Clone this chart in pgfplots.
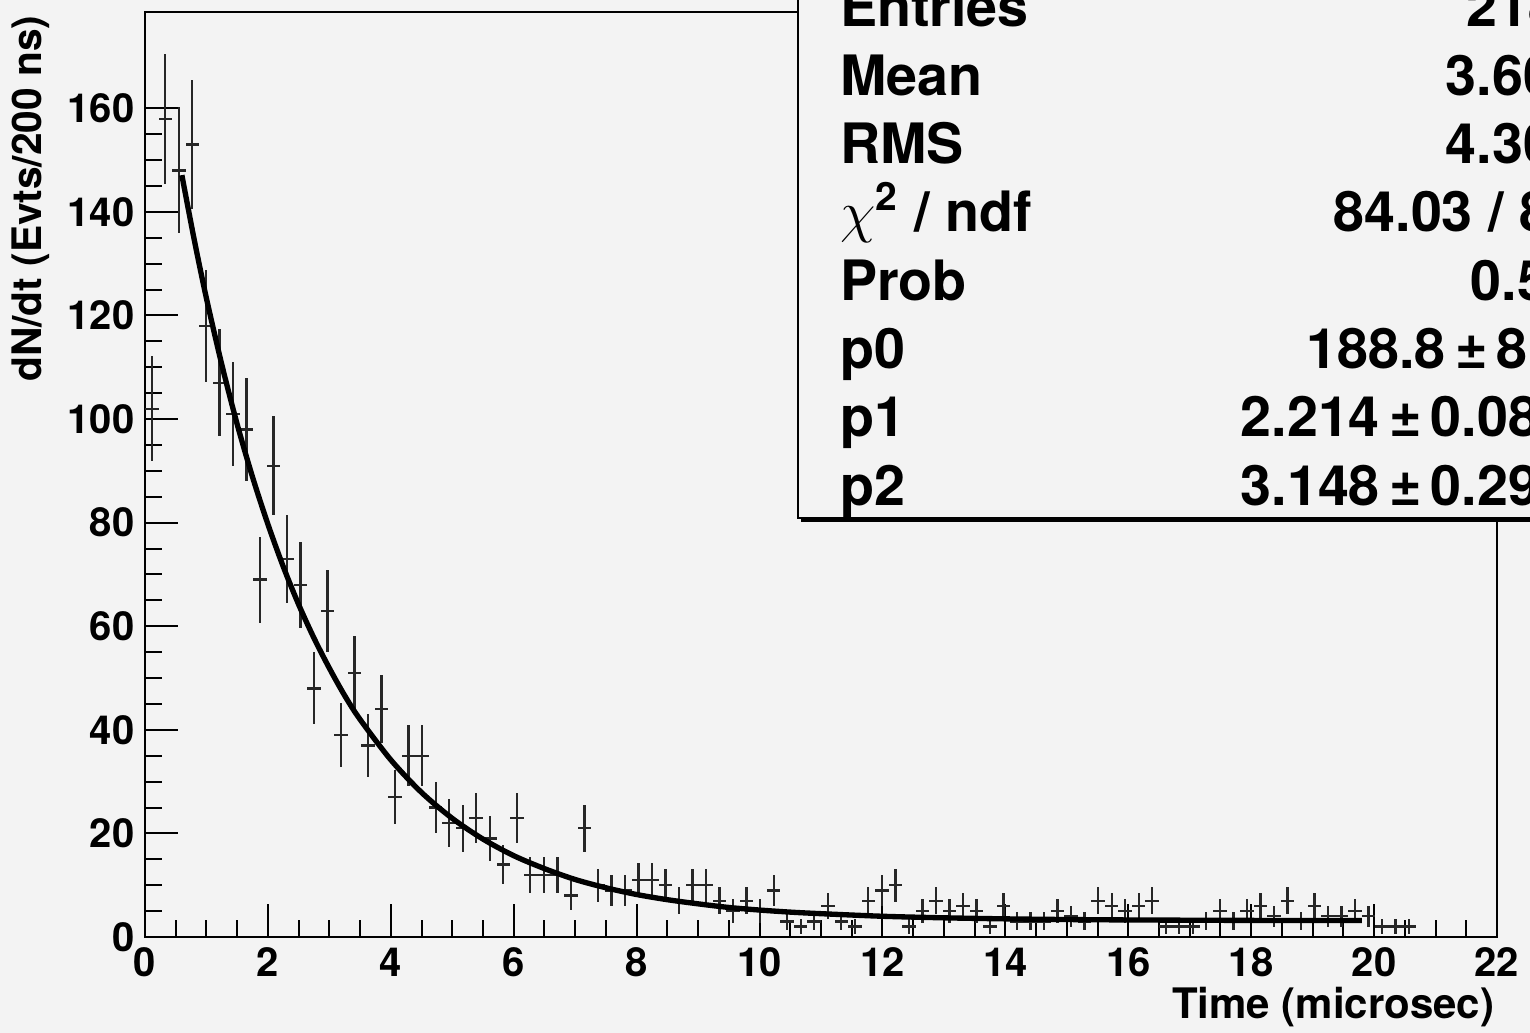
\documentclass[border=0pt]{standalone}
\usepackage{pgfplots}
\pgfplotsset{compat=1.18}
\usepackage{pgfplotstable}
\usepackage{fontspec}
\setmainfont{TeX Gyre Heros}
\definecolor{bgcol}{RGB}{243,243,243}

\pgfplotstableread{
x y ey
0.11 102 10.10
0.33 158 12.57
0.55 148 12.17
0.77 153 12.37
0.99 118 10.86
1.21 107 10.34
1.43 101 10.05
1.65 98 9.90
1.87 69 8.31
2.09 91 9.54
2.31 73 8.54
2.53 68 8.25
2.75 48 6.93
2.97 63 7.94
3.19 39 6.24
3.41 51 7.14
3.63 37 6.08
3.85 44 6.63
4.07 27 5.20
4.29 35 5.92
4.51 35 5.92
4.73 25 5.00
4.95 22 4.69
5.17 21 4.58
5.39 23 4.80
5.61 19 4.36
5.83 14 3.74
6.05 23 4.80
6.27 12 3.46
6.49 12 3.46
6.71 12 3.46
6.93 8 2.83
7.15 21 4.58
7.37 10 3.16
7.59 9 3.00
7.81 9 3.00
8.03 11 3.32
8.25 11 3.32
8.47 10 3.16
8.69 7 2.65
8.91 10 3.16
9.13 10 3.16
9.35 7 2.65
9.57 5 2.24
9.79 7 2.65
10.01 5 2.24
10.23 9 3.00
10.45 3 1.73
10.67 2 1.41
10.89 3 1.73
11.11 6 2.45
11.33 3 1.73
11.55 2 1.41
11.77 7 2.65
11.99 9 3.00
12.21 10 3.16
12.43 2 1.41
12.65 5 2.24
12.87 7 2.65
13.09 5 2.24
13.31 6 2.45
13.53 5 2.24
13.75 2 1.41
13.97 6 2.45
14.19 3 1.73
14.41 3 1.73
14.63 3 1.73
14.85 5 2.24
15.07 4 2.00
15.29 3 1.73
15.51 7 2.65
15.73 6 2.45
15.95 5 2.24
16.17 6 2.45
16.39 7 2.65
16.61 2 1.41
16.83 2 1.41
17.05 2 1.41
17.27 3 1.73
17.49 5 2.24
17.71 3 1.73
17.93 5 2.24
18.15 6 2.45
18.37 4 2.00
18.59 7 2.65
18.81 3 1.73
19.03 6 2.45
19.25 4 2.00
19.47 4 2.00
19.69 5 2.24
19.91 4 2.00
20.13 2 1.41
20.35 2 1.41
20.57 2 1.41
}\histdata

\begin{document}
\begin{tikzpicture}
\useasboundingbox (0,0) rectangle (459pt,309.9pt);
\fill[bgcol] (0,0) rectangle (459pt,309.9pt);
\begin{scope}
\clip (0,0) rectangle (459pt,309.9pt);
\begin{axis}[
  at={(43.5pt,28.8pt)}, anchor=south west,
  width=405.6pt, height=277.5pt, scale only axis,
  xmin=0, xmax=22, ymin=0, ymax=178.6,
  axis background/.style={fill=bgcol},
  axis line style={black, line width=0.8pt},
  xtick={0,2,...,22}, ytick={0,20,...,160},
  minor x tick num=3, minor y tick num=3,
  tick align=inside, tick pos=left,
  major tick length=10pt, minor tick length=5pt,
  every tick/.style={black, line width=0.6pt},
  /pgf/number format/assume math mode=true,
  ticklabel style={font=\bfseries\fontsize{12}{12}\selectfont, inner sep=0pt},
  xticklabel style={anchor=north, yshift=-3pt},
  yticklabel style={anchor=east, xshift=-3pt},
  xlabel={Time (microsec)},
  ylabel={dN/dt (Evts/200 ns)},
  xlabel style={at={(axis description cs:0.9985,-0.054)}, anchor=north east, inner sep=0pt, font=\bfseries\fontsize{12.6}{12.6}\selectfont},
  ylabel style={at={(axis description cs:-0.0703,0.9968)}, anchor=south east, inner sep=0pt, font=\bfseries\fontsize{12.2}{12.2}\selectfont},
]
\addplot[draw=none, mark=none, forget plot,
  error bars/.cd, x dir=both, x fixed=0.11, y dir=both, y explicit,
  error mark=none, error bar style={draw=black!85, solid, line width=0.7pt}]
  table[x=x, y=y, y error=ey] {\histdata};
\addplot[black, line width=1.6pt, smooth, mark=none] coordinates {
(0.6,147.1) (0.8,134.7) (1.0,123.3) (1.25,110.5) (1.5,99.0) (1.75,88.8)
(2.0,79.7) (2.25,71.5) (2.5,64.2) (2.75,57.7) (3.0,51.9) (3.25,46.6)
(3.5,42.0) (4.0,34.2) (4.5,27.9) (5.0,22.9) (5.5,18.9) (6.0,15.7)
(6.5,13.2) (7.0,11.1) (7.5,9.5) (8.0,8.2) (8.5,7.2) (9.0,6.4) (9.5,5.7)
(10,5.2) (10.5,4.8) (11,4.5) (12,4.0) (13,3.7) (14,3.5) (15,3.37)
(16,3.29) (17,3.24) (18,3.2) (19.8,3.17)};
\end{axis}
% stats box with shadow
\fill[black] (240.4pt,153.3pt) rectangle (470pt,319pt);
\filldraw[fill=bgcol, draw=black, line width=0.5pt] (239.4pt,154.5pt) rectangle (468pt,320pt);
\begin{scope}[every node/.style={inner sep=0pt, font=\bfseries\fontsize{16.7}{16.7}\selectfont}]
\node[anchor=base west] at (251.85pt,301.8pt) {Entries};
\node[anchor=base west] at (251.85pt,281.31pt) {Mean};
\node[anchor=base west] at (251.85pt,260.82pt) {RMS};
\node[anchor=base west] at (251.85pt,240.33pt) {{\mdseries$\chi$}\textsuperscript{2} / ndf};
\node[anchor=base west] at (251.85pt,219.84pt) {Prob};
\node[anchor=base west] at (251.85pt,199.35pt) {p0};
\node[anchor=base west] at (251.85pt,178.86pt) {p1};
\node[anchor=base west] at (251.85pt,158.37pt) {p2};
\node[anchor=base west] at (439.8pt,301.8pt) {2188};
\node[anchor=base west] at (433.5pt,281.31pt) {3.604};
\node[anchor=base west] at (433.5pt,260.82pt) {4.305};
\node[anchor=base west] at (399.9pt,240.33pt) {84.03 / 88};
\node[anchor=base west] at (441pt,219.84pt) {0.567};
\node[anchor=base west] at (391.8pt,199.35pt) {188.8\,±\,8.2};
\node[anchor=base west] at (372pt,178.86pt) {2.214\,±\,0.086};
\node[anchor=base west] at (372pt,158.37pt) {3.148\,±\,0.295};
\end{scope}
\end{scope}
\end{tikzpicture}
\end{document}
